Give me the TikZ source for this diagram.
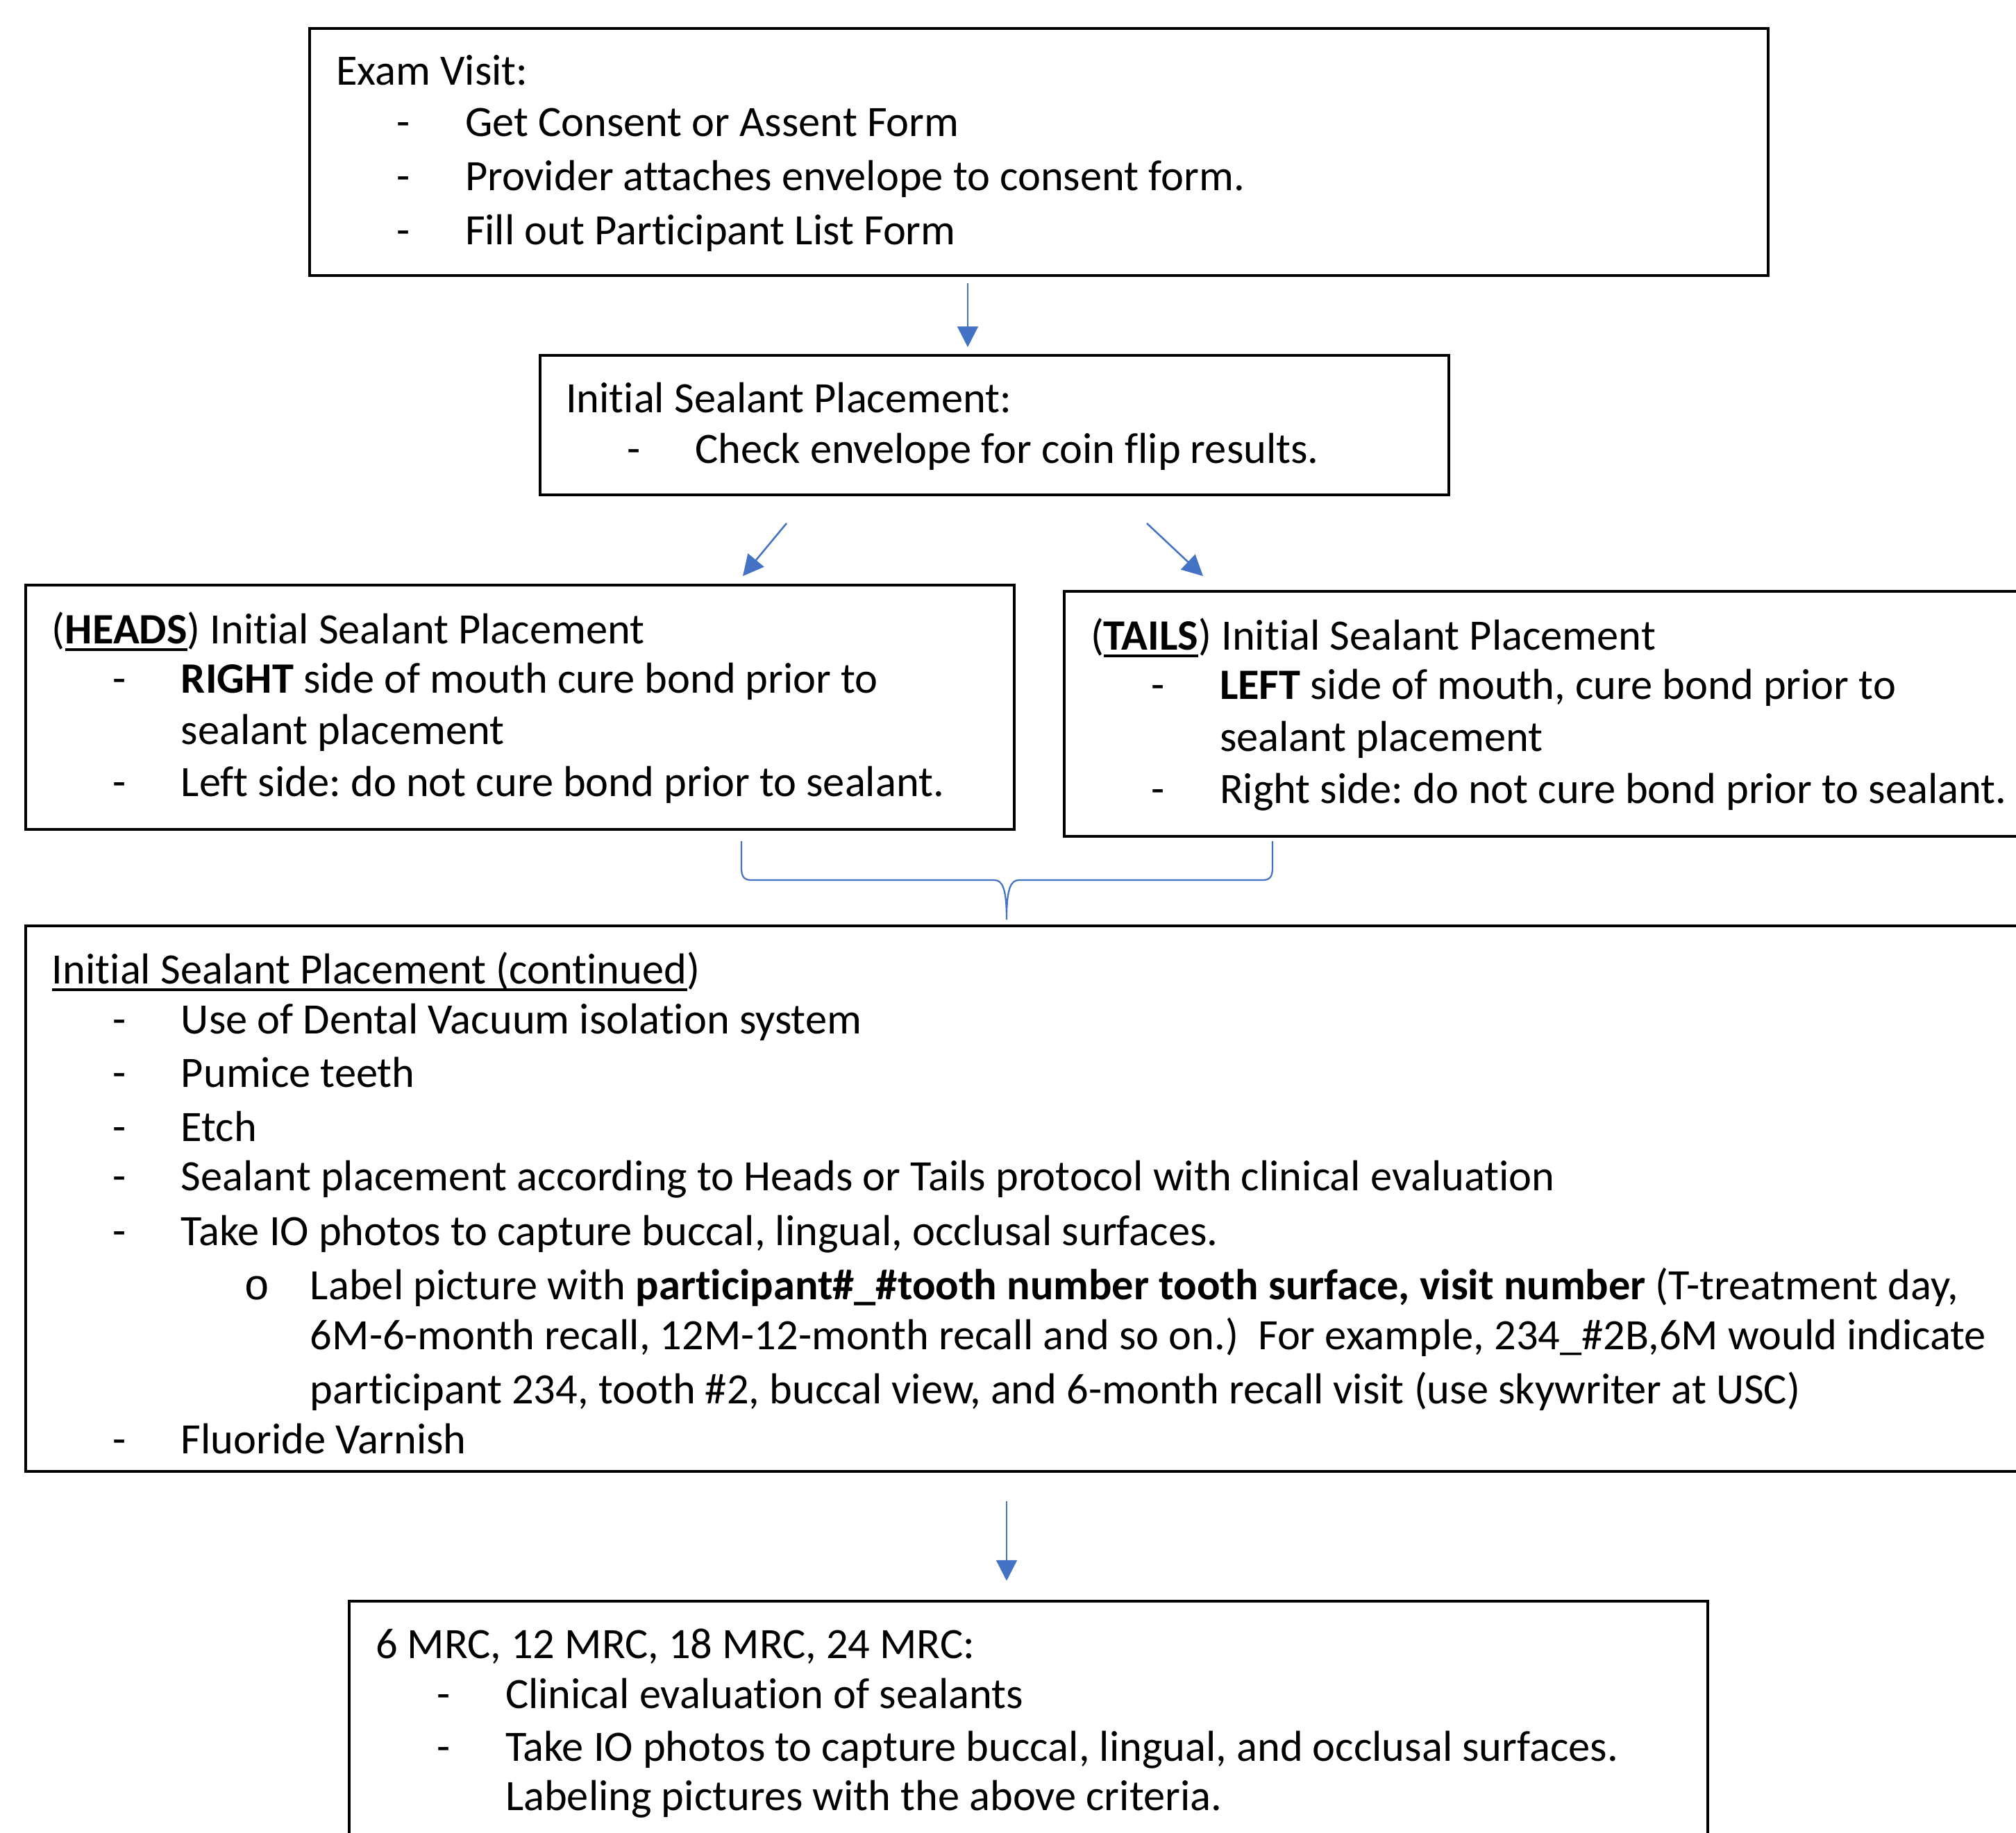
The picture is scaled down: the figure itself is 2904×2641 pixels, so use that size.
\documentclass[tikz,border=0pt]{standalone}
\usepackage{fontspec}
\setmainfont{Carlito}[Ligatures={NoCommon}]
\newfontfamily\bulletfont{Liberation Mono}
\usetikzlibrary{arrows.meta,fit}
\definecolor{wordblue}{HTML}{4472C4}
\frenchspacing
\newcommand\wul[1]{\setbox0\hbox{#1}\rlap{\rule[-1.7pt]{\wd0}{0.55pt}}\box0}
\tikzset{
  box/.style={draw=black, line width=0.55pt, inner sep=0pt, outer sep=0pt, rectangle},
  txt/.style={anchor=base west, inner sep=0pt, outer sep=0pt},
  dsh/.style={anchor=base, inner sep=0pt, outer sep=0pt},
  arr/.style={draw=wordblue, line width=0.45pt, -{Triangle[length=5.3pt,width=5.3pt]}},
  bracestyle/.style={draw=wordblue, line width=0.4pt}
}
\begin{document}
\begin{tikzpicture}[x=0.1776pt,y=-0.1776pt,font=\fontsize{11.09pt}{13.5pt}\selectfont]
\path[use as bounding box, clip] (0,0) rectangle (2904,2641);

% boxes
\node[box, fit={(446,41) (2547,397)}] (exam) {};
\node[box, fit={(778,512) (2087,713)}] (init) {};
\node[box, fit={(37,843) (1461,1195)}] (heads) {};
\node[box, fit={(1533,852) (2960,1205)}] (tails) {};
\node[box, fit={(37,1334) (2960,2120)}] (cont) {};
\node[box, fit={(503,2307) (2460,2720)}] (mrc) {};

\begin{scope}[yshift=-0.53pt]
% box A text
\node[txt] (a0) at (484,120) {Exam Visit:};
\node[dsh] (a1d) at (581,194) {-};
\node[txt] (a1) at (670,194) {Get Consent or Assent Form};
\node[dsh] (a2d) at (581,272) {-};
\node[txt] (a2) at (670,272) {Provider attaches envelope to consent form.};
\node[dsh] (a3d) at (581,350) {-};
\node[txt] (a3) at (670,350) {Fill out Participant List Form};

% box B text
\node[txt] (b0) at (815,592) {Initial Sealant Placement:};
\node[dsh] (b1d) at (913,665) {-};
\node[txt] (b1) at (1001,665) {Check envelope for coin flip results.};

% box C text
\node[txt] (c0) at (75,925) {(\wul{\textbf{HEADS}}) Initial Sealant Placement};
\node[dsh] (c1d) at (172,996) {-};
\node[txt] (c1) at (261,996) {\textbf{RIGHT} side of mouth cure bond prior to};
\node[txt] (c2) at (261,1070) {sealant placement};
\node[dsh] (c3d) at (172,1145) {-};
\node[txt] (c3) at (261,1145) {Left side: do not cure bond prior to sealant.};

% box D text
\node[txt] (d0) at (1571,934) {(\wul{\textbf{TAILS}}) Initial Sealant Placement};
\node[dsh] (d1d) at (1668,1005) {-};
\node[txt] (d1) at (1757,1005) {\textbf{LEFT} side of mouth, cure bond prior to};
\node[txt] (d2) at (1757,1080) {sealant placement};
\node[dsh] (d3d) at (1668,1155) {-};
\node[txt] (d3) at (1757,1155) {Right side: do not cure bond prior to sealant.};

% box E text
\node[txt] (e0) at (75,1415) {\wul{Initial Sealant Placement (continued})};
\node[dsh] (e1d) at (172,1487) {-};
\node[txt] (e1) at (261,1487) {Use of Dental Vacuum isolation system};
\node[dsh] (e2d) at (172,1564) {-};
\node[txt] (e2) at (261,1564) {Pumice teeth};
\node[dsh] (e3d) at (172,1642) {-};
\node[txt] (e3) at (261,1642) {Etch};
\node[dsh] (e4d) at (172,1713) {-};
\node[txt] (e4) at (261,1713) {Sealant placement according to Heads or Tails protocol with clinical evaluation};
\node[dsh] (e5d) at (172,1792) {-};
\node[txt] (e5) at (261,1792) {Take IO photos to capture buccal, lingual, occlusal surfaces.};
\node[dsh] (e6d) at (370,1870) {\bulletfont o};
\node[txt] (e6) at (447,1870) {Label picture with \textbf{participant\#\_\#tooth number tooth surface, visit number} (T-treatment day,};
\node[txt] (e7) at (447,1942) {6M-6-month recall, 12M-12-month recall and so on.)\ \ For example, 234\_\#2B,6M would indicate};
\node[txt] (e8) at (447,2020) {participant 234, tooth \#2, buccal view, and 6-month recall visit (use skywriter at USC)};
\node[dsh] (e9d) at (172,2092) {-};
\node[txt] (e9) at (261,2092) {Fluoride Varnish};

% box F text
\node[txt] (f0) at (541,2387) {6 MRC, 12 MRC, 18 MRC, 24 MRC:};
\node[dsh] (f1d) at (639,2459) {-};
\node[txt] (f1) at (728,2459) {Clinical evaluation of sealants};
\node[dsh] (f2d) at (639,2535) {-};
\node[txt] (f2) at (728,2535) {Take IO photos to capture buccal, lingual, and occlusal surfaces.};
\node[txt] (f3) at (728,2606) {Labeling pictures with the above criteria.};
\end{scope}

% connectors
\coordinate (xA) at (1394,0);
\draw[arr, shorten <=2pt, shorten >=2.1pt] (exam.south -| xA) -- (init.north -| xA);
\coordinate (dl1) at (1133,754);
\coordinate (dl2) at (1070,830);
\draw[arr] (dl1) -- (dl2);
\coordinate (dr1) at (1652,754);
\coordinate (dr2) at (1733,830);
\draw[arr] (dr1) -- (dr2);

\coordinate (bl) at (1068,1212);
\coordinate (br) at (1833,1212);
\coordinate (bt) at (1450,1325);
\draw[bracestyle] (bl) -- (1068,1250) .. controls (1068,1262) and (1071,1268) .. (1082,1268)
  -- (1432,1268) .. controls (1444,1268) and (1450,1280) .. (bt)
  .. controls (1450,1280) and (1456,1268) .. (1468,1268)
  -- (1819,1268) .. controls (1830,1268) and (1833,1262) .. (1833,1250) -- (br);

\coordinate (xE) at (1450,0);
\draw[arr, shorten <=7.6pt, shorten >=5.2pt] (cont.south -| xE) -- (mrc.north -| xE);
\end{tikzpicture}
\end{document}
